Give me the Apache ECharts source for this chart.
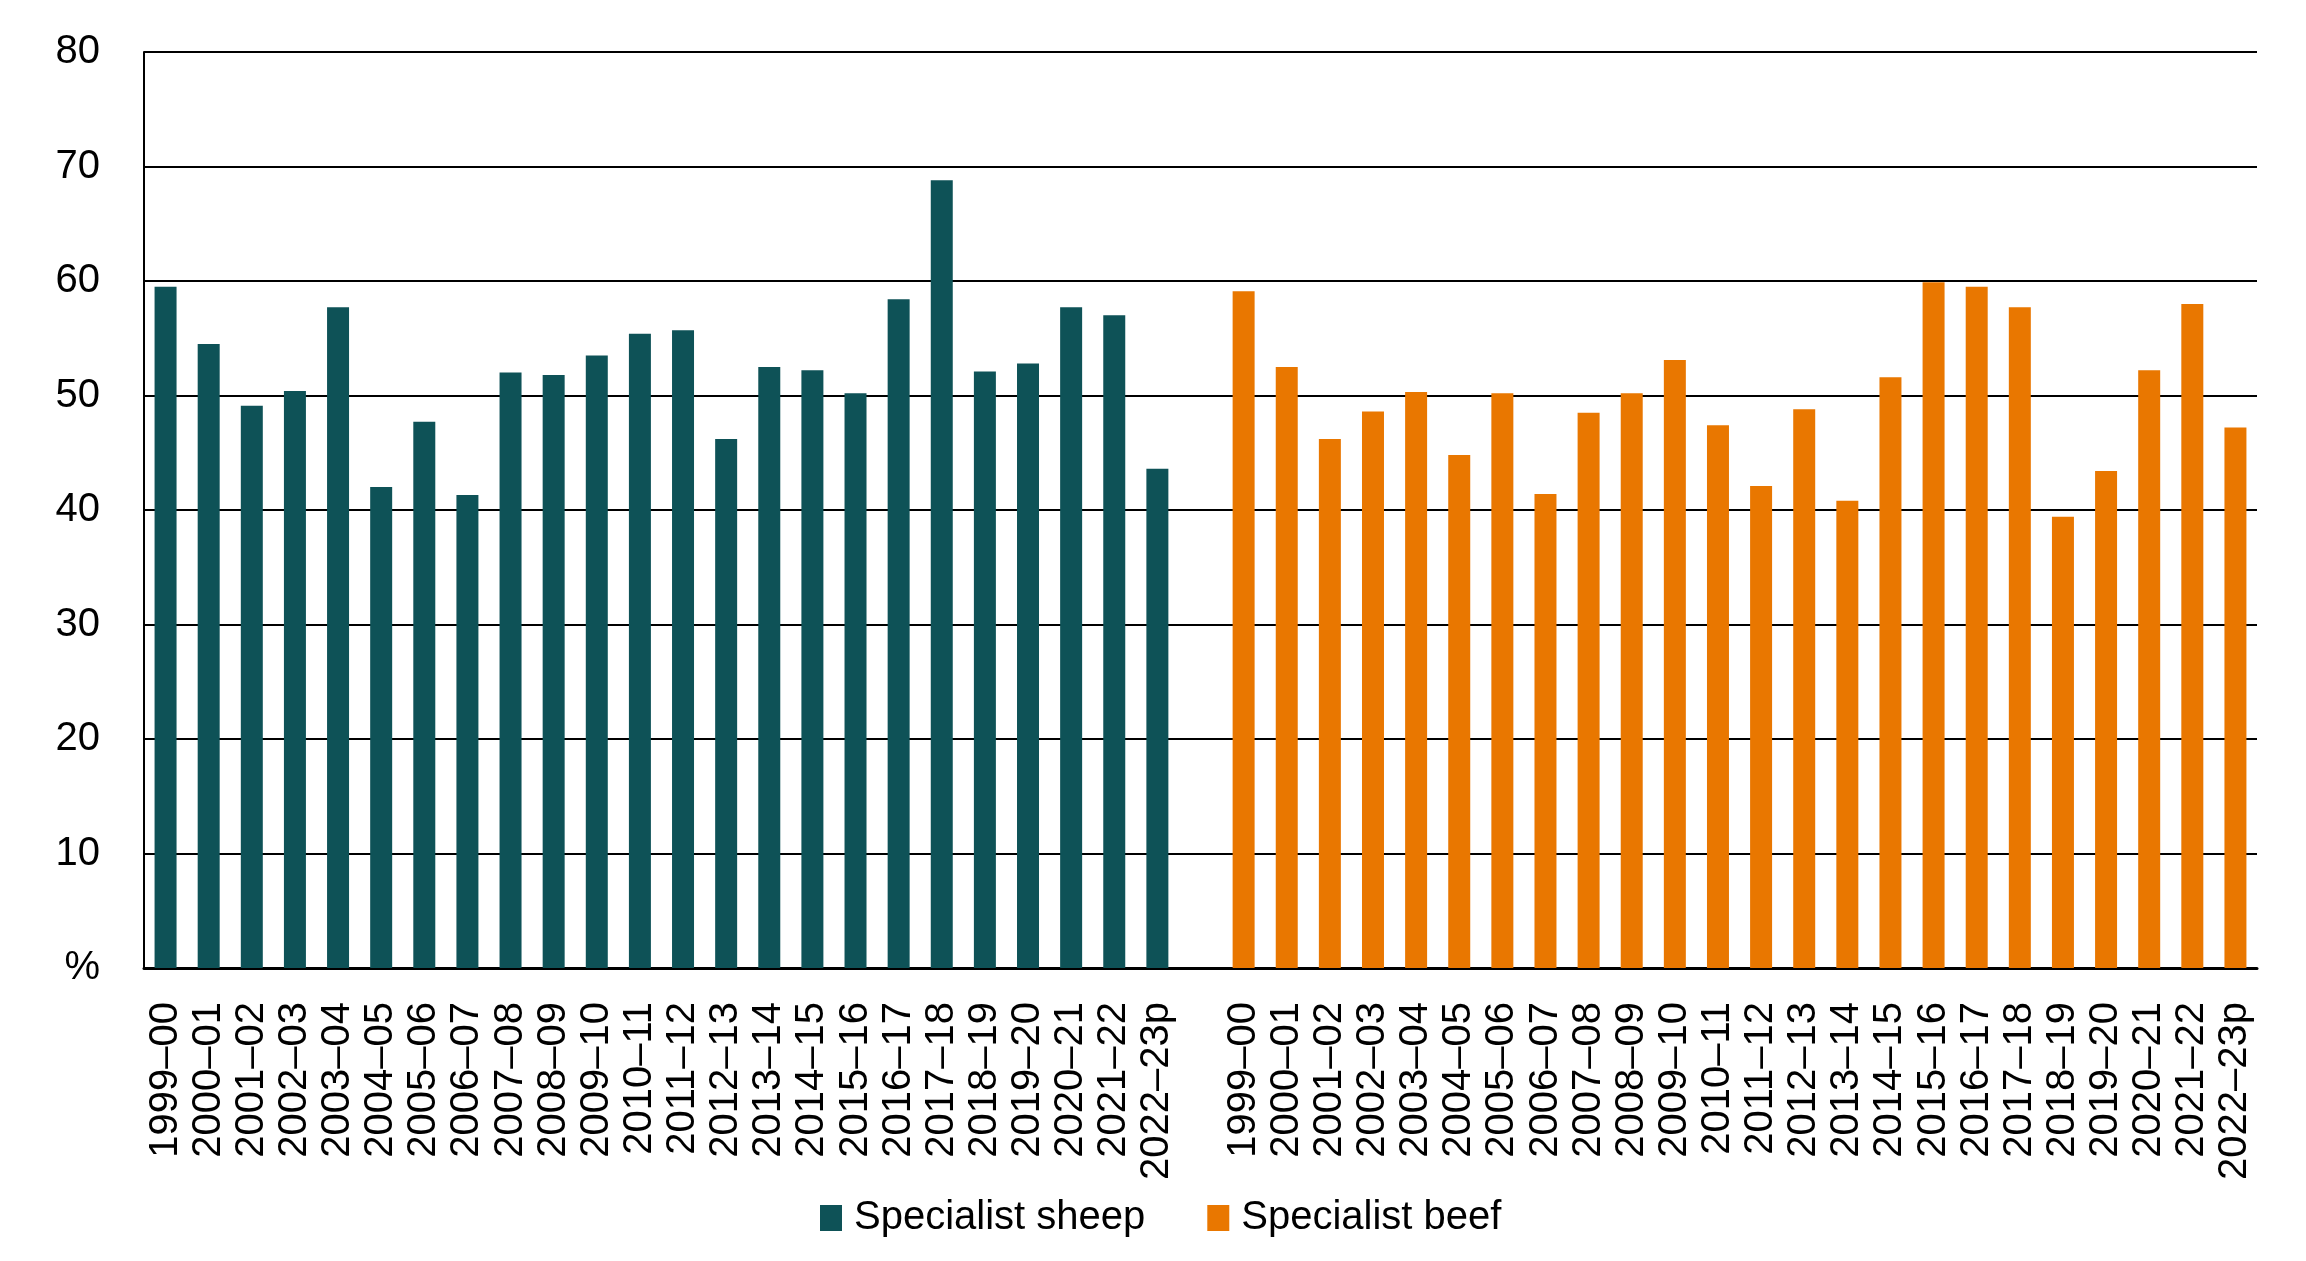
<!DOCTYPE html>
<html><head><meta charset="utf-8">
<script src="https://cdn.jsdelivr.net/npm/echarts@6/dist/echarts.min.js"></script>
<style>html,body{margin:0;padding:0;background:#fff}#c{width:2306px;height:1261px}</style>
</head><body><div id="c"></div>
<script>
const years = ['1999–00','2000–01','2001–02','2002–03','2003–04','2004–05','2005–06','2006–07','2007–08','2008–09','2009–10','2010–11','2011–12','2012–13','2013–14','2014–15','2015–16','2016–17','2017–18','2018–19','2019–20','2020–21','2021–22','2022–23p'];
const sheepValues = [59.5,54.5,49.1,50.4,57.7,42.0,47.7,41.3,52.0,51.8,53.5,55.4,55.7,46.2,52.5,52.2,50.2,58.4,68.8,52.1,52.8,57.7,57.0,43.6];
const beefValues = [59.1,52.5,46.2,48.6,50.3,44.8,50.2,41.4,48.5,50.2,53.1,47.4,42.1,48.8,40.8,51.6,59.9,59.5,57.7,39.4,43.4,52.2,58.0,47.2];
const yTicks = [0,10,20,30,40,50,60,70,80];

const cats = years.concat(['']).concat(years);
const blanks = n => Array(n).fill(null);
const sheepData = sheepValues.concat(blanks(1 + beefValues.length));
const beefData = blanks(sheepValues.length + 1).concat(beefValues);

const FONT = 'Liberation Sans';
const chart = echarts.init(document.getElementById('c'));
chart.setOption({
  animation: false,
  backgroundColor: '#fff',
  grid: {left: 144, right: 49, top: 52, bottom: 293, containLabel: false},
  legend: {
    left: 815, top: 1193, itemWidth: 22, itemHeight: 26, itemGap: 62,
    icon: 'rect',
    textStyle: {fontFamily: FONT, fontSize: 40, color: '#000', padding: [0,0,0,7]},
    data: ['Specialist sheep','Specialist beef']
  },
  xAxis: {
    type: 'category', data: cats,
    axisLine: {lineStyle: {color: '#000', width: 3}},
    axisTick: {show: false},
    axisLabel: {interval: 0, rotate: 90, margin: 34, fontFamily: FONT, fontSize: 40, color: '#000'}
  },
  yAxis: {
    type: 'value', min: yTicks[0], max: yTicks[yTicks.length-1], interval: 10,
    axisLine: {show: true, lineStyle: {color: '#000', width: 2}},
    axisTick: {show: false},
    splitLine: {lineStyle: {color: '#000', width: 2}},
    axisLabel: {margin: 44, fontFamily: FONT, fontSize: 40, color: '#000',
      formatter: v => v === 0 ? '%' : String(v)}
  },
  series: [
    {name: 'Specialist sheep', type: 'bar', data: sheepData, barWidth: '51%', barGap: '-100%',
     itemStyle: {color: '#0E5257'}},
    {name: 'Specialist beef', type: 'bar', data: beefData, barWidth: '51%', barGap: '-100%',
     itemStyle: {color: '#E97700'}}
  ]
});
</script></body></html>
